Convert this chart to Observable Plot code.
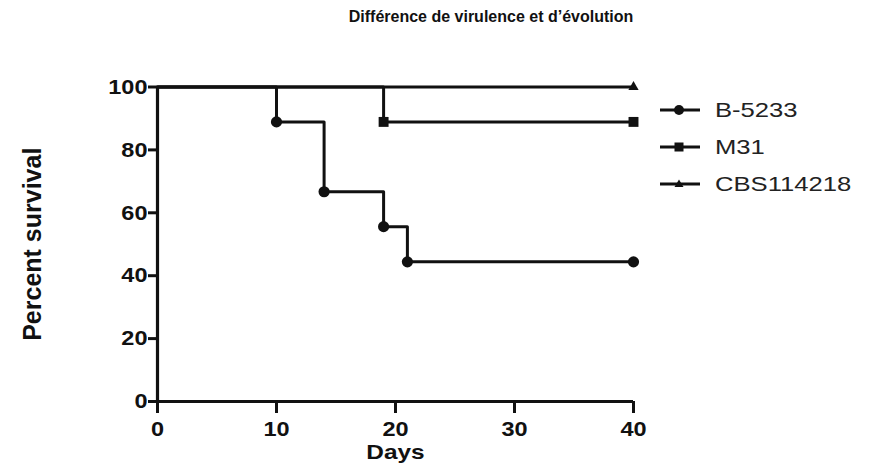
<!DOCTYPE html>
<html>
<head>
<meta charset="utf-8">
<script src="https://cdn.jsdelivr.net/npm/d3@7"></script>
<script src="https://cdn.jsdelivr.net/npm/@observablehq/plot@0.6"></script>
<style>
  body { margin: 0; background: #fff; font-family: "Liberation Sans", Arial, sans-serif; }
  #wrap { position: relative; width: 871px; height: 467px; overflow: hidden; }
  #title { position: absolute; left: 291px; width: 400px; top: 9px; line-height: 16px; text-align: center; font-size: 16px; font-weight: bold; color: #111; white-space: nowrap; }
  #chart { position: absolute; left: 0; top: 35px; }
  #legend { position: absolute; left: 659px; top: 91px; }
  .row { display: flex; align-items: center; height: 37px; }
  .row svg { flex: none; }
  .row span { font-size: 21px; line-height: 21px; color: #222; display: inline-block; transform: scaleX(1.22); transform-origin: left center; margin-left: 14px; white-space: nowrap; }
</style>
</head>
<body>
<div id="wrap">
  <div id="title">Différence de virulence et d’évolution</div>
  <div id="chart"></div>
  <div id="legend"></div>
</div>
<script>
const seriesNames = ["B-5233", "M31", "CBS114218"];
const symbols = ["circle", "square", "triangle"];
// Kaplan-Meier step points (day, percent survival)
const b5233Days = [0, 10, 14, 19, 21, 40];
const b5233Surv = [100, 88.9, 66.7, 55.6, 44.4, 44.4];
const m31Days = [0, 19, 40];
const m31Surv = [100, 88.9, 88.9];
const cbsDays = [0, 40];
const cbsSurv = [100, 100];
const xTicks = [0, 10, 20, 30, 40];
const yTicks = [0, 20, 40, 60, 80, 100];

const build = (name, days, surv) => days.map((d, i) => ({series: name, day: d, surv: surv[i], first: i === 0}));
const data = [
  ...build(seriesNames[0], b5233Days, b5233Surv),
  ...build(seriesNames[1], m31Days, m31Surv),
  ...build(seriesNames[2], cbsDays, cbsSurv)
];
const markers = data.filter(d => !d.first);
const bigMarkers = markers.filter(d => d.series !== "CBS114218");
const triMarkers = markers.filter(d => d.series === "CBS114218");

const font = "Liberation Sans, Arial, sans-serif";
const ink = "#111";
const chart = Plot.plot({
  width: 871,
  height: 432,
  marginLeft: 157,
  marginRight: 238,
  marginTop: 51.5,
  marginBottom: 66,
  style: { fontFamily: font, color: ink, background: "white", overflow: "visible" },
  x: { domain: [0, 40] },
  y: { domain: [0, 100] },
  symbol: { domain: seriesNames, range: symbols },
  marks: [
    Plot.axisX({ ticks: xTicks, tickSize: 12, tickPadding: 8, strokeWidth: 3, fontSize: 21, fontWeight: "bold", label: null, tickFormat: d => d }),
    Plot.axisY({ ticks: yTicks, tickSize: 9, tickPadding: 1, strokeWidth: 3, fontSize: 21, fontWeight: "bold", label: null, tickFormat: d => d }),
    Plot.ruleY([0], { strokeWidth: 3.2, stroke: ink }),
    Plot.ruleX([0], { strokeWidth: 3.2, stroke: ink }),
    Plot.line(data, { x: "day", y: "surv", z: "series", curve: "step-after", stroke: ink, strokeWidth: 3 }),
    Plot.dot(bigMarkers, { x: "day", y: "surv", symbol: "series", fill: ink, stroke: "none", r: 5.6 }),
    Plot.dot(triMarkers, { x: "day", y: "surv", symbol: "series", fill: ink, stroke: "none", r: 3.8 }),
    Plot.text(["Percent survival"], { frameAnchor: "left", textAnchor: "middle", rotate: -90, dx: -125, fontSize: 25, fontWeight: "bold", fill: ink }),
    Plot.text(["Days"], { frameAnchor: "bottom", dy: 57, fontSize: 20, fontWeight: "bold", fill: ink })
  ]
});

// widen text horizontally to match the reference's stretched lettering
function stretchEl(t, s) {
  let tr = t.getAttribute("transform");
  if (!tr) {
    const x = parseFloat(t.getAttribute("x")) || 0, y = parseFloat(t.getAttribute("y")) || 0;
    t.removeAttribute("x"); t.removeAttribute("y");
    tr = `translate(${x},${y})`;
  }
  t.setAttribute("transform", `${tr} scale(${s},1)`);
}
chart.querySelectorAll('g[aria-label="x-axis tick label"] text, g[aria-label="y-axis tick label"] text').forEach(t => stretchEl(t, 1.12));
chart.querySelectorAll('g[aria-label="text"] text').forEach(t => { if (t.textContent === "Days") stretchEl(t, 1.22); });
document.getElementById("chart").append(chart);

// Legend
const legend = document.getElementById("legend");
const shapes = {
  circle: '<circle cx="20" cy="8" r="5" fill="#111"/>',
  square: '<rect x="15.5" y="3.5" width="9" height="9" fill="#111"/>',
  triangle: '<path d="M20,3.5 L24.5,11 L15.5,11 Z" fill="#111"/>'
};
seriesNames.forEach((n, i) => {
  const row = document.createElement("div");
  row.className = "row";
  row.innerHTML = `<svg width="42" height="16"><line x1="1" x2="41" y1="8" y2="8" stroke="#111" stroke-width="3"/>${shapes[symbols[i]]}</svg><span>${n}</span>`;
  legend.append(row);
});
</script>
</body>
</html>
